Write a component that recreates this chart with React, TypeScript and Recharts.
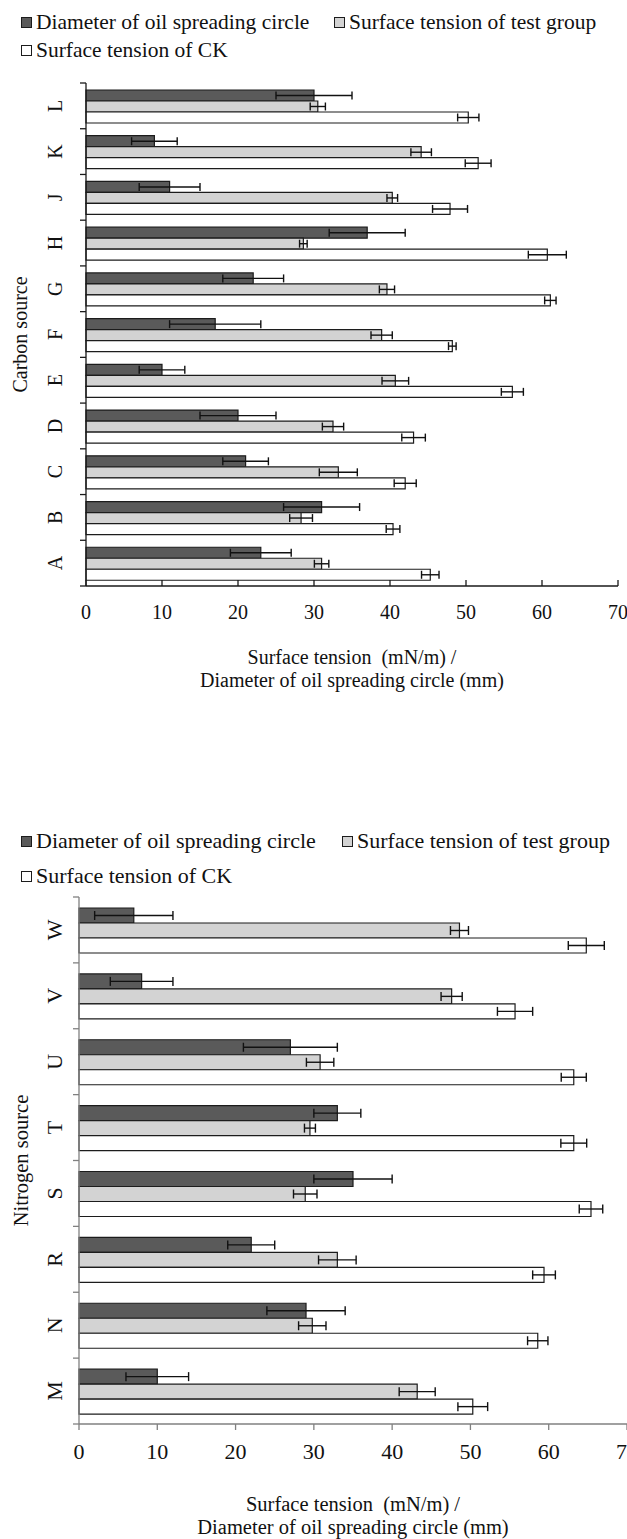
import React from "react";
import { BarChart, Bar, XAxis, YAxis, ErrorBar } from "recharts";

// carbon source panel (categories bottom to top)
const carbonSources = ["A", "B", "C", "D", "E", "F", "G", "H", "J", "K", "L"];
const carbonDiameter = [23, 31, 21, 20, 10, 17, 22, 37, 11, 9, 30];
const carbonDiameterErr = [4, 5, 3, 5, 3, 6, 4, 5, 4, 3, 5];
const carbonTest = [31, 28.3, 33.2, 32.5, 40.7, 38.9, 39.6, 28.6, 40.3, 44.1, 30.5];
const carbonTestErr = [0.95, 1.5, 2.5, 1.4, 1.75, 1.4, 1, 0.5, 0.7, 1.35, 1];
const carbonCk = [45.3, 40.4, 42, 43.1, 56.1, 48.2, 61.1, 60.7, 47.9, 51.6, 50.3];
const carbonCkErr = [1.15, 0.9, 1.45, 1.55, 1.45, 0.5, 0.75, 2.5, 2.3, 1.7, 1.4];

// nitrogen source panel (categories bottom to top)
const nitrogenSources = ["M", "N", "R", "S", "T", "U", "V", "W"];
const nitrogenDiameter = [10, 29, 22, 35, 33, 27, 8, 7];
const nitrogenDiameterErr = [4, 5, 3, 5, 3, 6, 4, 5];
const nitrogenTest = [43.2, 29.8, 33, 28.9, 29.5, 30.8, 47.6, 48.6];
const nitrogenTestErr = [2.3, 1.75, 2.4, 1.5, 0.7, 1.75, 1.35, 1.15];
const nitrogenCk = [50.3, 58.6, 59.4, 65.4, 63.2, 63.2, 55.7, 64.8];
const nitrogenCkErr = [1.9, 1.3, 1.45, 1.5, 1.65, 1.6, 2.25, 2.3];

const xTicks = [0, 10, 20, 30, 40, 50, 60, 70];
const seriesNames = [
  "Diameter of oil spreading circle",
  "Surface tension of test group",
  "Surface tension of CK",
];

const DARK = "#5a5a5a";
const LIGHT = "#d3d3d3";
const WHITE = "#ffffff";
const EDGE = "#1c1c1c";
const FONT = '"Liberation Serif", "Times New Roman", serif';

function buildRows(
  names: string[],
  diameter: number[],
  diameterErr: number[],
  test: number[],
  testErr: number[],
  ck: number[],
  ckErr: number[]
) {
  return names.map((name, i) => ({
    name,
    diameter: diameter[i],
    diameterErr: diameterErr[i],
    test: test[i],
    testErr: testErr[i],
    ck: ck[i],
    ckErr: ckErr[i],
  }))
}

const carbonRows = buildRows(carbonSources, carbonDiameter, carbonDiameterErr, carbonTest, carbonTestErr, carbonCk, carbonCkErr)
const nitrogenRows = buildRows(nitrogenSources, nitrogenDiameter, nitrogenDiameterErr, nitrogenTest, nitrogenTestErr, nitrogenCk, nitrogenCkErr)

function Swatch({ color }: { color: string }) {
  return (
    <span
      style={{
        display: "inline-block",
        width: 9,
        height: 9,
        border: `1px solid ${EDGE}`,
        background: color,
        marginRight: 4,
        marginBottom: 1.5,
      }}
    />
  )
}

function LegendBlock({ top, fontSize, lineHeight, secondLeft }: any) {
  return (
    <div
      style={{
        position: "absolute",
        left: 21,
        top,
        fontFamily: FONT,
        fontSize,
        lineHeight: `${lineHeight}px`,
        color: "#111",
        whiteSpace: "nowrap",
      }}
    >
      <div style={{ position: "relative" }}>
        <Swatch color={DARK} />
        {seriesNames[0]}
        <span style={{ position: "absolute", left: secondLeft - 21, top: 0 }}>
          <Swatch color={LIGHT} />
          {seriesNames[1]}
        </span>
      </div>
      <div>
        <Swatch color={WHITE} />
        {seriesNames[2]}
      </div>
    </div>
  )
}

interface PanelProps {
  rows: any[]
  yTitle: string
  width: number
  height: number
  top: number
  plotTop: number
  axisWidth: number
  axisHeight: number
  rightMargin: number
  fontSize: number
  titleSize: number
  gap: string
  capWidth: number
  axisColor: string
  xTickSize: number
  xTickMargin: number
  letterOffset: number
  yTitleX: number
  titleBaselines: [number, number]
}

function Panel(p: PanelProps) {
  const plotHeight = p.height - p.plotTop - p.axisHeight
  const band = plotHeight / p.rows.length
  const textStyle = { fontFamily: FONT, fontSize: p.fontSize, fill: "#111" }

  // category label centred in its band, tick marks on the band edges
  const renderYTick = (props: any) => {
    const { y, payload, index } = props
    const ax = p.axisWidth
    return (
      <g>
        <line x1={ax - 6} x2={ax} y1={y - band / 2} y2={y - band / 2} stroke={p.axisColor} strokeWidth={1.3} />
        {index === 0 && (
          <line x1={ax - 6} x2={ax} y1={y + band / 2} y2={y + band / 2} stroke={p.axisColor} strokeWidth={1.3} />
        )}
        <text
          transform={`translate(${ax - p.letterOffset},${y}) rotate(-90)`}
          textAnchor="middle"
          dominantBaseline="central"
          style={textStyle}
        >
          {payload.value}
        </text>
      </g>
    )
  }

  const renderXTitle = (props: any) => {
    const { x, y, width } = props.viewBox
    const cx = x + width / 2
    return (
      <g style={{ ...textStyle, fontSize: p.titleSize }}>
        <text x={cx} y={y + p.titleBaselines[0]} textAnchor="middle" style={{ whiteSpace: "pre" }}>
          {"Surface tension  (mN/m) /"}
        </text>
        <text x={cx} y={y + p.titleBaselines[1]} textAnchor="middle">
          Diameter of oil spreading circle (mm)
        </text>
      </g>
    )
  }

  const renderYTitle = (props: any) => {
    const { y, height } = props.viewBox
    return (
      <text
        transform={`translate(${p.yTitleX},${y + height / 2}) rotate(-90)`}
        textAnchor="middle"
        dominantBaseline="central"
        style={{ ...textStyle, fontSize: p.titleSize }}
      >
        {p.yTitle}
      </text>
    )
  }

  return (
    <div style={{ position: "absolute", left: 0, top: p.top, width: p.width, height: p.height }}>
      <BarChart
        width={p.width}
        height={p.height}
        data={p.rows}
        layout="vertical"
        barCategoryGap={p.gap}
        barGap={0}
        margin={{ top: p.plotTop, right: p.rightMargin, bottom: 0, left: 0 }}
      >
        <XAxis
          type="number"
          domain={[0, 70]}
          ticks={xTicks}
          interval={0}
          height={p.axisHeight}
          tick={{ ...textStyle }}
          tickSize={p.xTickSize}
          tickMargin={p.xTickMargin}
          axisLine={{ stroke: p.axisColor, strokeWidth: 1.3 }}
          tickLine={{ stroke: p.axisColor, strokeWidth: 1.3 }}
          label={renderXTitle}
        />
        <YAxis
          type="category"
          dataKey="name"
          reversed
          width={p.axisWidth}
          tick={renderYTick}
          tickLine={false}
          interval={0}
          axisLine={{ stroke: p.axisColor, strokeWidth: 1.3 }}
          label={renderYTitle}
        />
        <Bar dataKey="diameter" fill={DARK} stroke={EDGE} strokeWidth={1.2} isAnimationActive={false}>
          <ErrorBar dataKey="diameterErr" direction="x" width={p.capWidth} stroke="#111" strokeWidth={1.4} />
        </Bar>
        <Bar dataKey="test" fill={LIGHT} stroke={EDGE} strokeWidth={1.2} isAnimationActive={false}>
          <ErrorBar dataKey="testErr" direction="x" width={p.capWidth} stroke="#111" strokeWidth={1.4} />
        </Bar>
        <Bar dataKey="ck" fill={WHITE} stroke={EDGE} strokeWidth={1.2} isAnimationActive={false}>
          <ErrorBar dataKey="ckErr" direction="x" width={p.capWidth} stroke="#111" strokeWidth={1.4} />
        </Bar>
      </BarChart>
    </div>
  )
}

export default function App() {
  return (
    <div
      style={{
        position: "absolute",
        left: 0,
        top: 0,
        width: 627,
        height: 1539,
        background: "#fff",
        overflow: "hidden",
      }}
    >
      <LegendBlock top={8.2} fontSize={21.5} lineHeight={28} secondLeft={334} />
      <Panel
        rows={carbonRows}
        yTitle="Carbon source"
        width={627}
        height={700}
        top={0}
        plotTop={83}
        axisWidth={86}
        axisHeight={114}
        rightMargin={9}
        fontSize={20}
        titleSize={20}
        gap="15.3%"
        capWidth={4}
        axisColor="#1a1a1a"
        xTickSize={-6}
        xTickMargin={25}
        letterOffset={31}
        yTitleX={20}
        titleBaselines={[78, 101]}
      />
      <LegendBlock top={823.1} fontSize={22} lineHeight={35} secondLeft={342} />
      <Panel
        rows={nitrogenRows}
        yTitle="Nitrogen source"
        width={627}
        height={779}
        top={760}
        plotTop={137}
        axisWidth={79}
        axisHeight={115}
        rightMargin={0}
        fontSize={22}
        titleSize={20.5}
        gap="16.7%"
        capWidth={4.5}
        axisColor="#808080"
        xTickSize={6}
        xTickMargin={13}
        letterOffset={25}
        yTitleX={21}
        titleBaselines={[87, 110]}
      />
    </div>
  )
}
